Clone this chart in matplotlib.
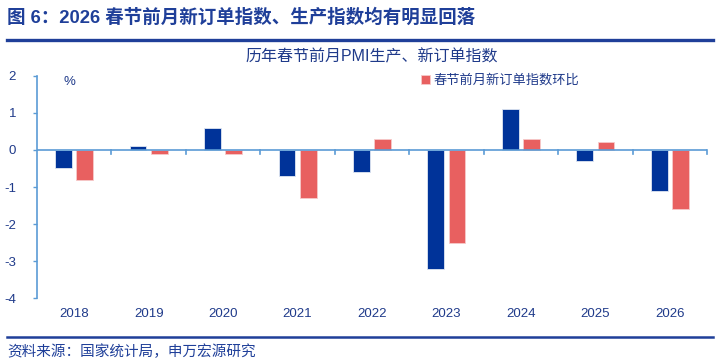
import matplotlib
matplotlib.use("Agg")
import matplotlib.pyplot as plt
import numpy as np

plt.rcParams['font.family'] = ['Liberation Sans', 'Noto Sans CJK SC', 'DejaVu Sans']

years = ['2018', '2019', '2020', '2021', '2022', '2023', '2024', '2025', '2026']
production = [-0.5, 0.1, 0.6, -0.7, -0.6, -3.2, 1.1, -0.3, -1.1]
new_orders = [-0.8, -0.1, -0.1, -1.3, 0.3, -2.5, 0.3, 0.2, -1.6]
yticks = [2, 1, 0, -1, -2, -3, -4]

navy = '#003399'
red = '#E86060'
axis_c = '#5B9BD5'
text_c = '#1F3A8A'

fig = plt.figure(figsize=(7.2, 3.62), dpi=100)
ax = fig.add_axes([37/720, 1-298.3/362, 670/720, 222.6/362])

x = np.arange(len(years))
w = 0.225
ax.bar(x - 0.143, production, w, color=navy, edgecolor='#dfe6f2', linewidth=0.6, label='春节前月生产指数环比')
b2 = ax.bar(x + 0.143, new_orders, w, color=red, edgecolor='#f6caca', linewidth=0.6, label='春节前月新订单指数环比')

ax.set_xlim(-0.5, len(years) - 0.5)
ax.set_ylim(-4, 2)
ax.set_yticks(yticks)
ax.set_yticklabels([str(v) for v in yticks], color=text_c, fontsize=9.5)
ax.set_xticks([])

for s in ['top', 'right', 'bottom']:
    ax.spines[s].set_visible(False)
ax.spines['left'].set_color(axis_c)
ax.spines['left'].set_linewidth(1.2)
ax.tick_params(axis='y', colors=axis_c, length=3, width=1, labelcolor=text_c, pad=12)

# zero line with category separators
ax.axhline(0, color=axis_c, linewidth=1.2, zorder=3)
for b in np.arange(0.5, len(years), 1.0):
    ax.plot([b, b], [0, -0.1], color=axis_c, linewidth=1.2, zorder=3, clip_on=False)

for i, yr in enumerate(years):
    ax.text(i, -4.42, yr, ha='center', va='center', color=text_c, fontsize=9.5)

ax.text(-0.06, 1.82, '%', ha='center', va='center', color=text_c, fontsize=9.5)

leg = ax.legend(handles=[b2], loc='upper left', bbox_to_anchor=(0.563, 1.035), frameon=False,
                fontsize=9.5, handlelength=0.7, handleheight=0.7, handletextpad=0.3, borderpad=0)
for t in leg.get_texts():
    t.set_color(text_c)

fig.text(372/720, 1-57/362, '历年春节前月PMI生产、新订单指数', ha='center', va='center',
         color=text_c, fontsize=11.5)

# header and footer
fig.text(7/720, 1-18/362, '图 6：2026 春节前月新订单指数、生产指数均有明显回落', ha='left', va='center',
         color='#1F3F99', fontsize=13.3, fontweight='bold')
fig.add_artist(plt.Line2D([7/720, 713/720], [1-40/362, 1-40/362], color='#1F3F99', linewidth=2.4))
fig.add_artist(plt.Line2D([7/720, 713/720], [1-337/362, 1-337/362], color='#1F3F99', linewidth=1.8))
fig.text(7/720, 1-352/362, '资料来源：国家统计局，申万宏源研究', ha='left', va='center',
         color='#1F3F99', fontsize=10.5)

fig.savefig('out.png', dpi=100)
